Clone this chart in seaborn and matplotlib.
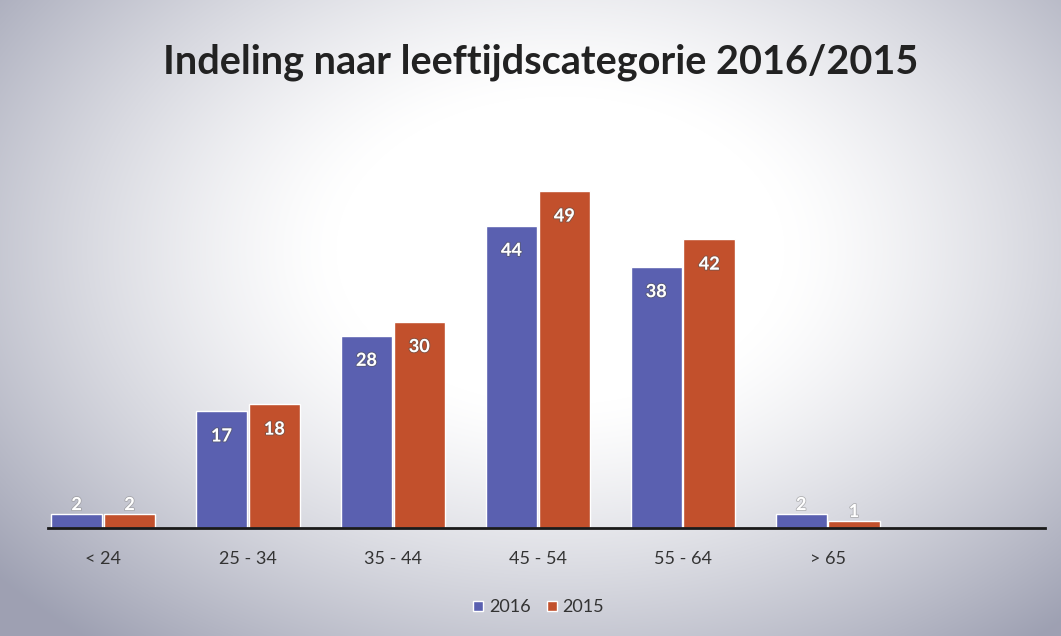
import numpy as np
import pandas as pd
import matplotlib
matplotlib.use("Agg")
import matplotlib.pyplot as plt
import matplotlib.patheffects as pe
import seaborn as sns

categories = ["< 24", "25 - 34", "35 - 44", "45 - 54", "55 - 64", "> 65"]
values_2016 = [2, 17, 28, 44, 38, 2]
values_2015 = [2, 18, 30, 49, 42, 1]
series = ["2016", "2015"]
colors = ["#5a60b0", "#c2502c"]
title = "Indeling naar leeftijdscategorie 2016/2015"

df = pd.DataFrame({
    "cat": categories * 2,
    "val": values_2016 + values_2015,
    "year": [series[0]] * len(categories) + [series[1]] * len(categories),
})

sns.set_theme(style="white")
plt.rcParams["font.family"] = ["Lato", "DejaVu Sans"]

fig = plt.figure(figsize=(10.61, 6.36), dpi=100)

# radial gradient background
bg = fig.add_axes([0, 0, 1, 1], zorder=-10)
h, w = 636, 1061
yy, xx = np.mgrid[0:h, 0:w]
cx, cy = 560, 250
r = np.sqrt(((xx - cx) / 640.0) ** 2 + ((yy - cy) / 440.0) ** 2)
t = np.clip((r - 0.35) / 0.8, 0, 1) ** 1.3
white = np.array([1.0, 1.0, 1.0])
edge = np.array([0.62, 0.63, 0.70])
img = white[None, None, :] * (1 - t[..., None]) + edge[None, None, :] * t[..., None]
bg.imshow(img, extent=[0, 1, 0, 1], aspect="auto", origin="upper")
bg.set_axis_off()

ax = fig.add_axes([0.0452, 0.1698, 0.9397, 0.5943])
ax.patch.set_alpha(0)
sns.barplot(data=df, x="cat", y="val", hue="year", order=categories,
            hue_order=series, palette=colors, width=0.73, gap=0.03,
            saturation=1, ax=ax, legend=True, edgecolor="white", linewidth=1)

ax.set_xlim(-0.38, 6.5)
ax.set_ylim(0, 55)
ax.set_xlabel("")
ax.set_ylabel("")
ax.set_yticks([])
for s in ["top", "right", "left"]:
    ax.spines[s].set_visible(False)
ax.spines["bottom"].set_color("#1a1a1a")
ax.spines["bottom"].set_linewidth(2)
ax.tick_params(axis="x", length=0, pad=22, labelsize=13, labelcolor="#333333")
for lbl in ax.get_xticklabels():
    lbl.set_va("center")

for container in ax.containers:
    for bar in container:
        v = bar.get_height()
        xc = bar.get_x() + bar.get_width() / 2
        if v >= 5:
            ax.text(xc, v - 3.6, f"{int(v)}", ha="center", va="center",
                    color="white", fontsize=13, fontweight="bold",
                    path_effects=[pe.withStroke(linewidth=1.5, foreground="#55555588")])
        else:
            ax.text(xc, v + 1.4, f"{int(v)}", ha="center", va="center",
                    color="white", fontsize=13, fontweight="bold",
                    path_effects=[pe.withStroke(linewidth=1.2, foreground="#88888888")])

leg = ax.legend(loc="center", bbox_to_anchor=(0.492, -0.21), ncol=2,
                frameon=False, fontsize=13, handlelength=0.55, handleheight=0.55,
                handletextpad=0.3, columnspacing=0.9)
for txt in leg.get_texts():
    txt.set_color("#333333")

fig.text(0.51, 0.902, title, ha="center", va="center", fontsize=28.5,
         fontweight="bold", color="#222222")

fig.savefig("out.png", dpi=100)
